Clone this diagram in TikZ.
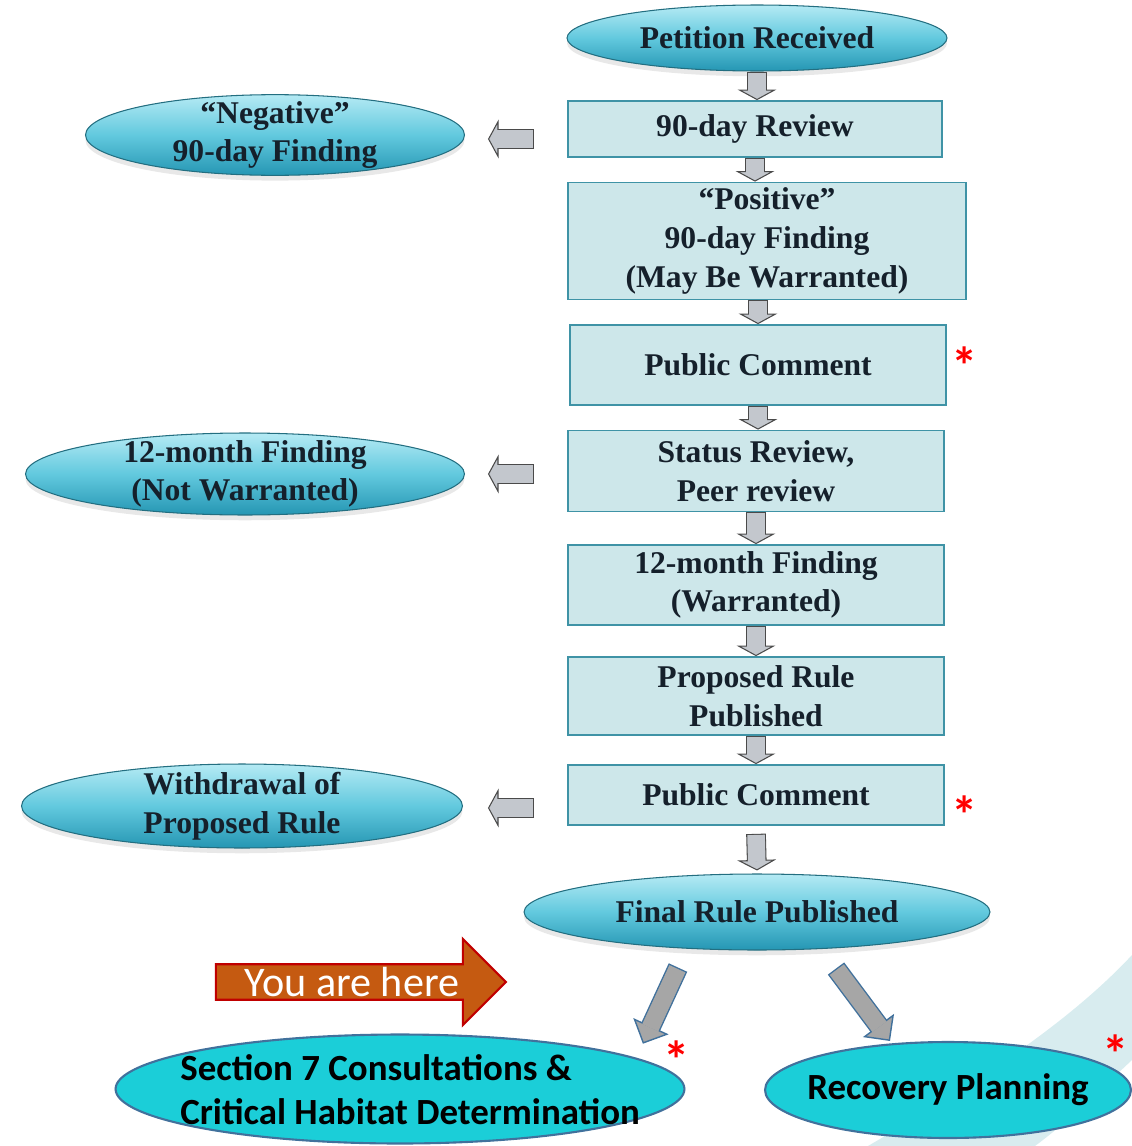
\documentclass[tikz,border=0pt]{standalone}
\usepackage{fontspec}
\setmainfont{Liberation Serif}
\newfontfamily\calibri{Carlito}
\usetikzlibrary{arrows.meta,shapes.geometric,shapes.arrows,shadows,calc}

\definecolor{boxfill}{HTML}{CDE7EA}
\definecolor{boxedge}{HTML}{3F93A6}
\definecolor{ovaltop}{HTML}{B5EAF4}
\definecolor{ovalmid}{HTML}{62C9DE}
\definecolor{ovalbot}{HTML}{2596B3}
\definecolor{ovaledge}{HTML}{236E80}
\definecolor{inktext}{HTML}{15202B}
\definecolor{arrowgray}{HTML}{C3C7CD}
\definecolor{arrowedge}{HTML}{4A4A4A}
\definecolor{ovalcyan}{HTML}{1BCED8}
\definecolor{newedge}{HTML}{41719C}
\definecolor{diaggray}{HTML}{A6A6A6}
\definecolor{herefill}{HTML}{C55A11}
\definecolor{hereedge}{HTML}{C00000}
\definecolor{bandteal}{HTML}{D8ECEF}

\tikzset{
  stepbox/.style={draw=boxedge, fill=boxfill, line width=1pt, text=inktext,
    align=center, font=\fontsize{18}{22}\selectfont\bfseries, inner sep=0pt},
  oldoval/.style={ellipse, draw=ovaledge, line width=0.6pt, top color=ovaltop,
    bottom color=ovalbot, middle color=ovalmid, text=inktext, align=center,
    font=\fontsize{18}{22}\selectfont\bfseries, inner xsep=0pt, inner ysep=-3pt,
    drop shadow={opacity=0.18, shadow xshift=0pt, shadow yshift=-3pt}},
  newoval/.style={ellipse, draw=newedge, line width=1.2pt, fill=ovalcyan,
    inner xsep=-0.4cm, inner ysep=0pt, font=\calibri\fontsize{21}{25}\selectfont\bfseries},
  blkarrow/.style={draw=arrowgray, line width=10pt, shorten <=0.6pt, shorten >=5pt,
    preaction={draw=arrowedge, line width=11.2pt, shorten <=0pt, shorten >=0pt,
      -{Triangle[length=6pt, width=22pt, fill=arrowgray, line width=0.6pt]}}},
  diagarrow/.style={draw=diaggray, line width=10pt, shorten <=0.8pt, shorten >=10pt,
    preaction={draw=newedge, line width=11.6pt, shorten <=0pt, shorten >=0pt,
      -{Triangle[length=11pt, width=22pt, fill=diaggray, line width=0.8pt]}}},
  herearrow/.style={single arrow, draw=hereedge, fill=herefill, line width=1.2pt,
    text=white, font=\calibri\fontsize{24}{26}\selectfont, inner ysep=0pt,
    single arrow head extend=0.45cm, minimum height=5.8cm, minimum width=1.72cm},
  redast/.style={text=red, anchor=north, inner sep=0pt,
    font=\calibri\fontsize{30}{30}\selectfont\bfseries},
}

\begin{document}
\begin{tikzpicture}[x=0.02cm, y=-0.02cm]
  \useasboundingbox (0,0) rectangle (1132,1146);
  % background band
  \fill[bandteal] (868,1146) .. controls (960,1092) and (1062,1030) .. (1132,955)
    -- (1132,1060) .. controls (1100,1090) and (1070,1120) .. (1035,1146) -- cycle;

  % main column
  \node[oldoval, minimum width=7.6cm, minimum height=1.32cm] (petition) at (757,38) {Petition Received};
  \node[stepbox, minimum width=7.48cm, minimum height=1.12cm] (rev90) at (755,129) {90-day Review};
  \node[stepbox, minimum width=7.96cm, minimum height=2.34cm] (pos90) at (767,241) {“Positive”\\90-day Finding\\(May Be Warranted)};
  \node[stepbox, minimum width=7.52cm, minimum height=1.6cm] (pubc1) at (758,365) {Public Comment};
  \node[stepbox, minimum width=7.52cm, minimum height=1.62cm] (status) at (756,471) {Status Review,\\Peer review};
  \node[stepbox, minimum width=7.52cm, minimum height=1.6cm] (warr) at (756,585) {12-month Finding\\(Warranted)};
  \node[stepbox, minimum width=7.52cm, minimum height=1.56cm] (prop) at (756,696) {Proposed Rule\\Published};
  \node[stepbox, minimum width=7.52cm, minimum height=1.2cm] (pubc2) at (756,795) {Public Comment};
  \node[oldoval, minimum width=9.32cm, minimum height=1.52cm] (final) at (757,912) {Final Rule Published};

  % side outcomes
  \node[oldoval, minimum width=7.58cm, minimum height=1.6cm] (neg90) at (275,135) {“Negative”\\90-day Finding};
  \node[oldoval, minimum width=8.78cm, minimum height=1.64cm] (notwarr) at (245,474) {12-month Finding\\(Not Warranted)};
  \node[oldoval, minimum width=8.82cm, minimum height=1.68cm] (withdraw) at (242,806) {Withdrawal of\\Proposed Rule};

  % after listing
  \node[newoval, minimum width=11.38cm, minimum height=2.18cm] (sec7) at (400,1089) {};
  \node[anchor=west, align=left, inner sep=0pt, font=\calibri\fontsize{21}{25}\selectfont\bfseries] (sec7txt) at (180,1090) {Section 7 Consultations \&\\Critical Habitat Determination};
  \node[newoval, minimum width=7.32cm, minimum height=1.92cm] (recov) at (948,1090) {Recovery Planning};
  \node[herearrow] (here) at (352,982) {You are here};

  % asterisks
  \node[redast] (ast1) at (965,346) {*};
  \node[redast] (ast2) at (965,795) {*};
  \node[redast] (ast3) at (677,1040) {*};
  \node[redast] (ast4) at (1116,1034) {*};

  % down arrows
  \draw[blkarrow] (petition.south) -- (petition.south |- rev90.north);
  \draw[blkarrow] (rev90.south) -- (rev90.south |- pos90.north);
  \draw[blkarrow] (pos90.south -| pubc1.north) -- (pubc1.north);
  \draw[blkarrow] (pubc1.south) -- (pubc1.south |- status.north);
  \draw[blkarrow] (status.south) -- (warr.north);
  \draw[blkarrow] (warr.south) -- (prop.north);
  \draw[blkarrow] (prop.south) -- (pubc2.north);
  \draw[blkarrow] ($(pubc2.south)+(0,8)$) -- ($(final.north)+(0,-3)$);

  % left arrows
  \draw[blkarrow] ($(rev90.west |- neg90.east)+(-33,4)$) -- ($(neg90.east)+(23,4)$);
  \draw[blkarrow] ($(status.west |- notwarr.east)+(-33,0)$) -- ($(notwarr.east)+(23,0)$);
  \draw[blkarrow] ($(pubc2.west |- withdraw.east)+(-33,2)$) -- ($(withdraw.east)+(25,2)$);

  % diagonal arrows
  \draw[diagarrow] ($(final.south)+(-79,17)$) -- ($(sec7.north east)+(41,-6)$);
  \draw[diagarrow] ($(final.south)+(79,18)$) -- ($(recov.north)+(-58,0)$);
\end{tikzpicture}
\end{document}
